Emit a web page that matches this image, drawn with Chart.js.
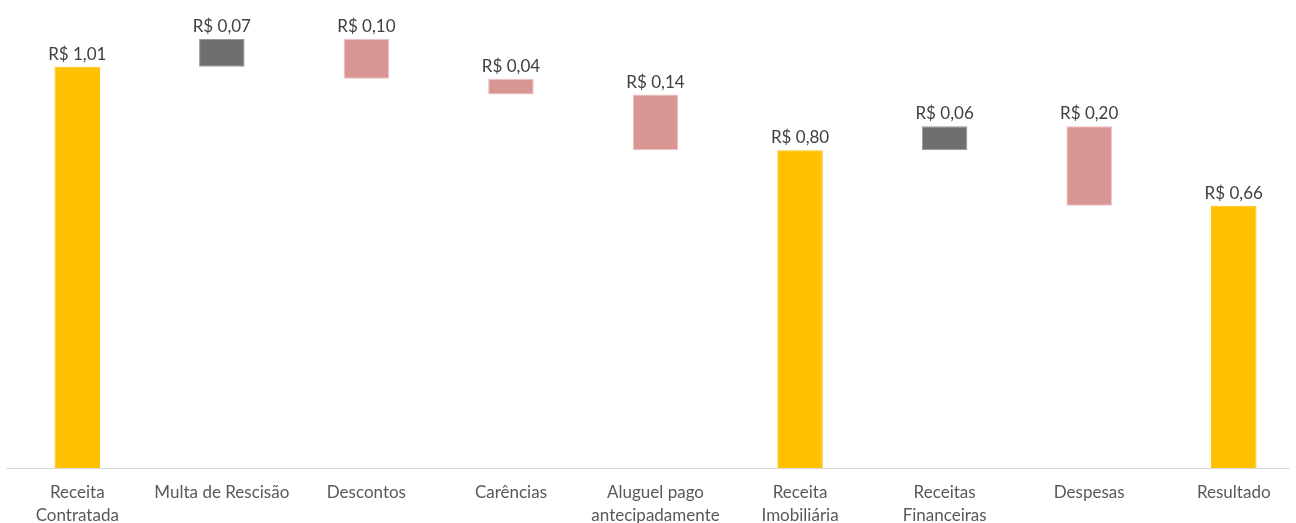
<!DOCTYPE html>
<html lang="pt-BR">
<head>
<meta charset="utf-8">
<script src="https://cdn.jsdelivr.net/npm/chart.js@4/dist/chart.umd.min.js"></script>
<style>
    html, body { margin: 0; padding: 0; background: #fff; overflow: hidden; }
    #wrap { position: relative; width: 1306px; height: 523px; }
</style>
</head>
<body>
<div id="wrap"><canvas id="chart"></canvas></div>
<script>
// Categorias e valores (R$)
const categorias = [
    ['Receita', 'Contratada'],
    'Multa de Rescisão',
    'Descontos',
    'Carências',
    ['Aluguel pago', 'antecipadamente'],
    ['Receita', 'Imobiliária'],
    ['Receitas', 'Financeiras'],
    'Despesas',
    'Resultado'
];
const valores = [1.01, 0.07, 0.10, 0.04, 0.14, 0.80, 0.06, 0.20, 0.66];
// 'total' parte do zero, 'mais' soma, 'menos' subtrai
const tipos = ['total', 'mais', 'menos', 'menos', 'menos', 'total', 'mais', 'menos', 'total'];

const cores = { total: '#FFC000', mais: '#6F6E70', menos: '#D99594' };
const bordas = { total: '#FFC000', mais: '#9A999B', menos: '#EBC2C1' };

// Monta as barras flutuantes a partir do acumulado
let acumulado = 0;
const faixas = valores.map((v, i) => {
    if (tipos[i] === 'total') {
        acumulado = v;
        return [0, v];
    }
    const ini = acumulado;
    acumulado = tipos[i] === 'mais' ? acumulado + v : acumulado - v;
    return [Math.min(ini, acumulado), Math.max(ini, acumulado)];
});

function formatarReal(v) {
    return 'R$ ' + v.toFixed(2).replace('.', ',');
}

// Rótulos acima de cada barra + linha do eixo
const rotulosPlugin = {
    id: 'rotulos',
    afterDatasetsDraw(chart) {
        const ctx = chart.ctx;
        const meta = chart.getDatasetMeta(0);
        const area = chart.chartArea;
        ctx.save();
        ctx.strokeStyle = '#D9D9D9';
        ctx.lineWidth = 1;
        ctx.beginPath();
        ctx.moveTo(6, Math.round(area.bottom) + 0.5);
        ctx.lineTo(1290, Math.round(area.bottom) + 0.5);
        ctx.stroke();

        ctx.font = '17px Lato, "Open Sans", sans-serif';
        ctx.fillStyle = '#404040';
        ctx.textAlign = 'center';
        ctx.textBaseline = 'bottom';
        meta.data.forEach((bar, i) => {
            const topo = Math.min(bar.y, bar.base);
            ctx.fillText(formatarReal(valores[i]), bar.x, topo - 4);
        });
        ctx.restore();
    }
};

const ctx = document.getElementById('chart').getContext('2d');
new Chart(ctx, {
    type: 'bar',
    data: {
        labels: categorias,
        datasets: [{
            data: faixas,
            backgroundColor: tipos.map(t => cores[t]),
            borderColor: tipos.map(t => bordas[t]),
            borderWidth: 1,
            borderSkipped: false,
            barPercentage: 0.315,
            categoryPercentage: 1
        }]
    },
    options: {
        responsive: true,
        maintainAspectRatio: false,
        animation: false,
        layout: { padding: { left: 5, right: 0, top: 0, bottom: 0 } },
        plugins: {
            legend: { display: false },
            tooltip: { enabled: false }
        },
        scales: {
            x: {
                grid: { display: false, drawTicks: false },
                border: { display: false },
                ticks: {
                    color: '#595959',
                    font: { family: 'Lato, "Open Sans", sans-serif', size: 17, lineHeight: 1.35 },
                    padding: 13,
                    maxRotation: 0,
                    autoSkip: false
                },
                afterFit(scale) { scale.height = 55; }
            },
            y: {
                display: false,
                min: 0,
                max: 1.178
            }
        }
    },
    plugins: [rotulosPlugin]
});
</script>
</body>
</html>
